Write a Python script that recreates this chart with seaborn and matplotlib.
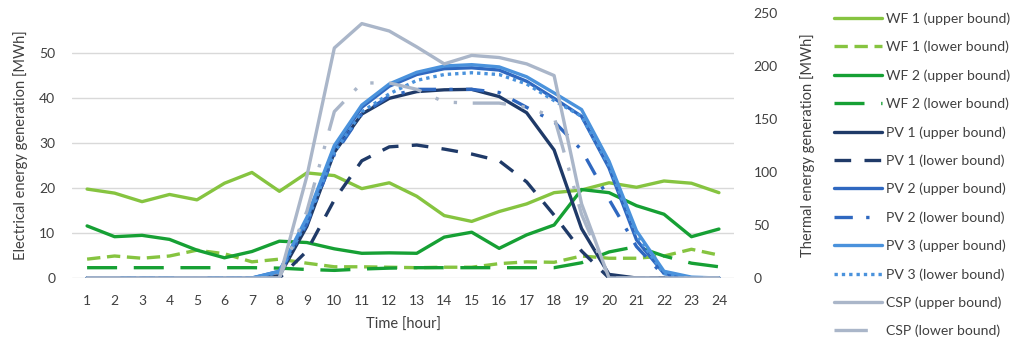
import numpy as np
import pandas as pd
import matplotlib
matplotlib.use("Agg")
import matplotlib.pyplot as plt
import seaborn as sns

sns.set_style("white")
plt.rcParams['font.family'] = ['Lato', 'DejaVu Sans']

hours = list(range(1, 25))

wf1_upper = [19.8, 18.9, 17.0, 18.6, 17.4, 21.1, 23.5, 19.3, 23.4, 22.8, 19.9, 21.2, 18.2, 13.9, 12.6, 14.8, 16.5, 19.0, 19.6, 21.2, 20.2, 21.6, 21.1, 19.0]
wf1_lower = [4.2, 4.9, 4.4, 4.9, 6.2, 5.4, 3.6, 4.2, 3.3, 2.5, 2.5, 2.4, 2.3, 2.4, 2.4, 3.2, 3.6, 3.5, 4.9, 4.4, 4.4, 4.9, 6.4, 5.1]
wf2_upper = [11.6, 9.2, 9.5, 8.6, 6.2, 4.5, 5.9, 8.2, 7.9, 6.5, 5.5, 5.6, 5.5, 9.1, 10.2, 6.6, 9.6, 11.8, 19.7, 19.0, 16.1, 14.2, 9.2, 10.9]
wf2_lower = [2.3, 2.3, 2.3, 2.3, 2.3, 2.3, 2.3, 2.2, 1.9, 1.7, 2.0, 2.2, 2.3, 2.3, 2.3, 2.3, 2.3, 2.3, 3.4, 5.8, 7.0, 4.9, 3.3, 2.5]
pv1_upper = [0, 0, 0, 0, 0, 0, 0, 0.5, 11.5, 28.0, 36.5, 40.0, 41.5, 41.9, 42.0, 40.4, 36.8, 28.5, 11.0, 0.8, 0, 0, 0, 0]
pv1_lower = [0, 0, 0, 0, 0, 0, 0, 0, 6.0, 17.4, 26.1, 29.2, 29.6, 28.7, 27.6, 26.1, 21.4, 14.0, 6.0, 0, 0, 0, 0, 0]
pv2_upper = [0, 0, 0, 0, 0, 0, 0, 1.5, 13.0, 29.0, 38.0, 42.7, 45.3, 46.6, 46.8, 46.3, 43.8, 40.0, 36.0, 24.5, 8.5, 1.0, 0, 0]
pv2_lower = [0, 0, 0, 0, 0, 0, 0, 1.0, 12.0, 27.5, 36.5, 40.5, 42.0, 42.0, 42.0, 41.3, 38.0, 34.8, 28.5, 17.5, 7.0, 0.5, 0, 0]
pv3_upper = [0, 0, 0, 0, 0, 0, 0, 1.5, 13.5, 29.5, 38.5, 43.2, 45.8, 47.2, 47.5, 47.0, 44.8, 41.2, 37.5, 26.0, 10.5, 1.5, 0.2, 0]
pv3_lower = [0, 0, 0, 0, 0, 0, 0, 1.2, 12.5, 28.0, 37.0, 41.0, 44.0, 45.3, 45.7, 45.3, 43.2, 39.5, 36.0, 25.0, 9.5, 1.0, 0, 0]
csp_upper = [0, 0, 0, 0, 0, 0, 0, 0, 96, 217, 240, 233, 218, 202, 210, 208, 202, 191, 70, 0, 0, 0, 0, 0]
csp_lower = [0, 0, 0, 0, 0, 0, 0, 0, 63, 157, 184, 184, 178, 166, 165, 165, 161, 152, 60, 0, 0, 0, 0, 0]

c_wf1 = "#86c440"
c_wf2 = "#16a034"
c_pv1 = "#1f3a68"
c_pv2 = "#2f68c0"
c_pv3 = "#4a92dc"
c_csp = "#aab6c9"

series_left = [
    ("WF 1 (upper bound)", wf1_upper, c_wf1, "-"),
    ("WF 1 (lower bound)", wf1_lower, c_wf1, (0, (4, 2))),
    ("WF 2 (upper bound)", wf2_upper, c_wf2, "-"),
    ("WF 2 (lower bound)", wf2_lower, c_wf2, (0, (9, 5))),
    ("PV 1 (upper bound)", pv1_upper, c_pv1, "-"),
    ("PV 1 (lower bound)", pv1_lower, c_pv1, (0, (5, 4))),
    ("PV 2 (upper bound)", pv2_upper, c_pv2, "-"),
    ("PV 2 (lower bound)", pv2_lower, c_pv2, (0, (5.5, 4, 1, 4))),
    ("PV 3 (upper bound)", pv3_upper, c_pv3, "-"),
    ("PV 3 (lower bound)", pv3_lower, c_pv3, (0, (1, 1.2))),
]
series_right = [
    ("CSP (upper bound)", csp_upper, c_csp, "-"),
    ("CSP (lower bound)", csp_lower, c_csp, (0, (10, 4.7, 1, 4.7, 1, 4.7))),
]

fig = plt.figure(figsize=(10.14, 3.42), dpi=100)
ax = fig.add_axes([0.0710, 0.1871, 0.6529, 0.7749])
ax2 = ax.twinx()

lw = 2.4
for name, vals, col, ls in series_left:
    df = pd.DataFrame({"hour": hours, "value": vals})
    sns.lineplot(data=df, x="hour", y="value", ax=ax, color=col, linewidth=lw,
                 linestyle=ls, label=name)
for name, vals, col, ls in series_right:
    df = pd.DataFrame({"hour": hours, "value": vals})
    sns.lineplot(data=df, x="hour", y="value", ax=ax2, color=col, linewidth=lw,
                 linestyle=ls, label=name)

for a in (ax, ax2):
    leg = a.get_legend()
    if leg is not None:
        leg.remove()

h1, l1 = ax.get_legend_handles_labels()
h2, l2 = ax2.get_legend_handles_labels()

ax.set_xlim(0.45, 24.55)
ax.set_ylim(0, 59)
ax2.set_ylim(0, 250)
ax.set_xticks(hours)
ax.set_yticks([0, 10, 20, 30, 40, 50])
ax2.set_yticks([0, 50, 100, 150, 200, 250])

ax.grid(axis="y", color="#d9d9d9", linewidth=1.0)
ax.grid(axis="x", visible=False)
ax2.grid(False)
ax.set_axisbelow(True)
for a in (ax, ax2):
    for s in a.spines.values():
        s.set_visible(False)

tc = "#404040"
ax.tick_params(axis="x", length=0, pad=12, labelsize=10, labelcolor=tc)
ax.tick_params(axis="y", length=0, pad=12, labelsize=10, labelcolor=tc)
ax2.tick_params(axis="y", length=0, pad=14, labelsize=10, labelcolor=tc)

ax.set_xlabel("Time [hour]", fontsize=10.5, color=tc, labelpad=8)
ax.set_ylabel("Electrical energy generation [MWh]", fontsize=10.5, color=tc, labelpad=8)
ax2.set_ylabel("Thermal energy generation [MWh]", fontsize=10.5, color=tc, labelpad=16)

fig.legend(h1 + h2, l1 + l2, loc="upper left", bbox_to_anchor=(0.8166, 0.98),
           frameon=False, fontsize=10.1, handlelength=3.45, handletextpad=0.3,
           labelspacing=1.13, labelcolor=tc, borderaxespad=0.0)

fig.savefig("out.png", dpi=100)
